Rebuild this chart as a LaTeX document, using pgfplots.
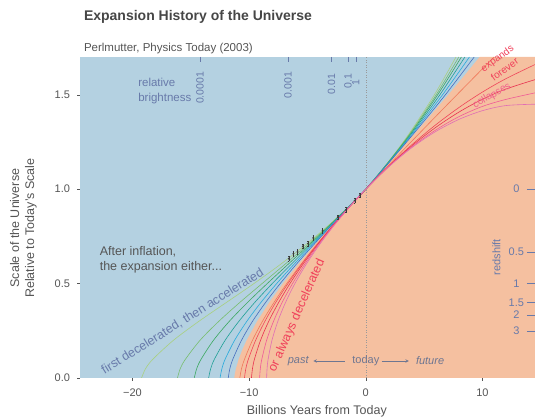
\documentclass[border=0pt]{standalone}
\usepackage{pgfplots}
\pgfplotsset{compat=1.18}
\usepackage{fontspec}
\setmainfont{Liberation Sans}
\definecolor{bgblue}{RGB}{180,209,225}
\definecolor{bgorange}{RGB}{245,192,160}
\definecolor{labgray}{RGB}{85,85,85}
\definecolor{titgray}{RGB}{70,70,70}
\definecolor{annblue}{RGB}{104,122,170}
\definecolor{pastgray}{RGB}{110,118,145}
\definecolor{dkgray}{RGB}{60,60,60}
\definecolor{cG1}{RGB}{168,208,128}
\definecolor{cG2}{RGB}{120,190,110}
\definecolor{cG3}{RGB}{60,168,96}
\definecolor{cG4}{RGB}{32,160,150}
\definecolor{cG5}{RGB}{40,170,220}
\definecolor{cG6}{RGB}{70,110,190}
\definecolor{cR1}{RGB}{240,120,90}
\definecolor{cR2}{RGB}{240,70,90}
\definecolor{cR3}{RGB}{232,50,80}
\definecolor{cR4}{RGB}{240,90,150}
\definecolor{cR5}{RGB}{225,110,180}
\definecolor{redtxt}{RGB}{240,64,90}
\definecolor{pinktxt}{RGB}{240,96,140}
\begin{document}
\begin{tikzpicture}
\begin{axis}[
  name=ax, scale only axis, width=454.5pt, height=321pt,
  xmin=-24.45, xmax=14.5, ymin=0, ymax=1.7,
  axis background/.style={fill=bgblue},
  axis line style={draw=none},
  xtick={-20,-10,0,10}, xticklabels={−20,−10,0,10},
  ytick={0,0.5,1,1.5}, yticklabels={0.0,0.5,1.0,1.5},
  xtick pos=lower, ytick pos=left,
  tick align=outside, major tick length=3pt,
  tick style={draw=labgray, line width=0.4pt},
  tick label style={font=\fontsize{11}{13}\selectfont, text=labgray},
  xticklabel style={yshift=-4pt},
  yticklabel style={xshift=-4pt},
  clip mode=individual,
]
\coordinate (bl) at (rel axis cs:0,0);
\coordinate (tr) at (rel axis cs:1,1);
% orange region (always decelerated side)
\addplot[fill=bgorange, draw=none] coordinates {
(-11.27,0) (-11.23,0.02) (-11.13,0.05) (-10.89,0.1) (-10.58,0.15) (-10.21,0.2)
(-9.32,0.3) (-8.28,0.4) (-7.11,0.5) (-5.83,0.6) (-4.46,0.7) (-3.02,0.8)
(-1.53,0.9) (0,1) (2.13,1.15) (4.27,1.3) (7.07,1.5) (8.42,1.6) (9.75,1.7) (14.5,1.7)
} \closedcycle;
\addplot[gray!80, dotted, line width=0.5pt] coordinates {(0,0) (0,1.7)};
% first decelerated, then accelerated
\addplot[cG1, line width=0.6pt, smooth] coordinates {
(-19.22,0) (-18.87,0.05) (-18.24,0.1) (-16.48,0.2) (-14.31,0.3) (-11.95,0.4) (-9.59,0.5)
(-7.35,0.6) (-5.27,0.7) (-3.35,0.8) (-1.60,0.9) (0,1) (2.00,1.15) (3.78,1.3) (5.88,1.5) (7.73,1.7)};
\addplot[cG2, line width=0.6pt, smooth] coordinates {
(-16.14,0) (-15.90,0.05) (-15.45,0.1) (-14.20,0.2) (-12.60,0.3) (-10.80,0.4) (-8.89,0.5)
(-6.97,0.6) (-5.09,0.7) (-3.29,0.8) (-1.59,0.9) (0,1) (2.01,1.15) (3.85,1.3) (6.03,1.5) (7.97,1.7)};
\addplot[cG3, line width=0.6pt, smooth] coordinates {
(-14.70,0) (-14.49,0.05) (-14.11,0.1) (-13.05,0.2) (-11.70,0.3) (-10.14,0.4) (-8.45,0.5)
(-6.70,0.6) (-4.95,0.7) (-3.23,0.8) (-1.58,0.9) (0,1) (2.03,1.15) (3.91,1.3) (6.16,1.5) (8.19,1.7)};
\addplot[cG4, line width=0.6pt, smooth] coordinates {
(-13.47,0) (-13.29,0.05) (-12.97,0.1) (-12.05,0.2) (-10.88,0.3) (-9.52,0.4) (-8.02,0.5)
(-6.43,0.6) (-4.81,0.7) (-3.17,0.8) (-1.56,0.9) (0,1) (2.06,1.15) (3.99,1.3) (6.35,1.5) (8.49,1.7)};
\addplot[cG5, line width=0.6pt, smooth] coordinates {
(-12.49,0) (-12.33,0.05) (-12.05,0.1) (-11.24,0.2) (-10.20,0.3) (-8.99,0.4) (-7.64,0.5)
(-6.19,0.6) (-4.67,0.7) (-3.11,0.8) (-1.55,0.9) (0,1) (2.09,1.15) (4.08,1.3) (6.58,1.5) (8.88,1.7)};
\addplot[cG6, line width=0.6pt, smooth] coordinates {
(-11.79,0) (-11.65,0.05) (-11.39,0.1) (-10.65,0.2) (-9.71,0.3) (-8.59,0.4) (-7.34,0.5)
(-5.99,0.6) (-4.55,0.7) (-3.06,0.8) (-1.54,0.9) (0,1) (2.12,1.15) (4.18,1.3) (6.82,1.5) (9.29,1.7)};
% always decelerated
\addplot[cR1, line width=0.6pt, smooth] coordinates {
(-10.8,0) (-10.65,0.05) (-10.39,0.1) (-9.71,0.2) (-8.86,0.3) (-7.87,0.4) (-6.78,0.5)
(-5.58,0.6) (-4.30,0.7) (-2.94,0.8) (-1.51,0.9) (0,1)
(2,1.1295) (4,1.258) (6,1.3855) (8,1.512) (10,1.6376) (11,1.70)};
\addplot[cR2, line width=0.6pt, smooth] coordinates {
(-10.4,0) (-10.28,0.05) (-10.06,0.1) (-9.44,0.2) (-8.65,0.3) (-7.72,0.4) (-6.67,0.5)
(-5.52,0.6) (-4.26,0.7) (-2.92,0.8) (-1.50,0.9) (0,1)
(2,1.1246) (4,1.2383) (6,1.3412) (8,1.4333) (10,1.5145) (12,1.5849) (14.5,1.66)};
\addplot[cR3, line width=0.6pt, smooth] coordinates {
(-9.8,0) (-9.71,0.05) (-9.54,0.1) (-9.02,0.2) (-8.32,0.3) (-7.47,0.4) (-6.50,0.5)
(-5.41,0.6) (-4.20,0.7) (-2.90,0.8) (-1.49,0.9) (0,1)
(2,1.1231) (4,1.2322) (6,1.3275) (8,1.4089) (10,1.4765) (12,1.5301) (14.5,1.58)};
\addplot[cR4, line width=0.6pt, smooth] coordinates {
(-9.1,0) (-9.04,0.05) (-8.91,0.1) (-8.50,0.2) (-7.91,0.3) (-7.17,0.4) (-6.28,0.5)
(-5.26,0.6) (-4.12,0.7) (-2.86,0.8) (-1.48,0.9) (0,1)
(2,1.1215) (4,1.2261) (6,1.3138) (8,1.3846) (10,1.4384) (12,1.4753) (14.5,1.51)};
\addplot[cR5, line width=0.6pt, smooth] coordinates {
(-8.5,0) (-8.46,0.05) (-8.37,0.1) (-8.04,0.2) (-7.54,0.3) (-6.88,0.4) (-6.08,0.5)
(-5.13,0.6) (-4.04,0.7) (-2.82,0.8) (-1.48,0.9) (0,1)
(2,1.1206) (4,1.2225) (6,1.3057) (8,1.3701) (10,1.4158) (12,1.4427) (14.5,1.45)};
% supernova data
\addplot[only marks, mark=*, mark size=0.7pt, color=dkgray,
  error bars/.cd, y dir=both, y explicit, error bar style={dkgray, line width=0.4pt}]
coordinates {
(-6.6,0.632) +- (0,0.012) (-6.2,0.658) +- (0,0.012) (-5.85,0.668) +- (0,0.012)
(-5.4,0.697) +- (0,0.012) (-4.95,0.712) +- (0,0.012) (-4.5,0.742) +- (0,0.012)
(-3.7,0.78) +- (0,0.012) (-2.4,0.852) +- (0,0.012) (-1.7,0.89) +- (0,0.012)
(-0.95,0.94) +- (0,0.012) (-0.5,0.968) +- (0,0.012)};
% annotations
\node[anchor=west, align=left, text=labgray, font=\fontsize{12.5}{15}\selectfont]
  at (axis cs:-23.1,0.625) {After inflation,\\the expansion either...};
\node[rotate=32, text=annblue, font=\fontsize{12.5}{15}\selectfont]
  at (axis cs:-15.7,0.30) {first decelerated, then accelerated};
\node[rotate=66, text=redtxt, font=\fontsize{12.5}{15}\selectfont]
  at (axis cs:-5.9,0.33) {or always decelerated};
\node[rotate=36, text=redtxt, font=\fontsize{10}{12}\selectfont]
  at (axis cs:11.3,1.69) {expands};
\node[rotate=36, text=redtxt, font=\fontsize{10}{12}\selectfont]
  at (axis cs:11.9,1.635) {forever};
\node[rotate=30, text=pinktxt, font=\fontsize{10}{12}\selectfont]
  at (axis cs:10.8,1.495) {collapses};
% relative brightness scale
\node[anchor=west, align=left, text=annblue, font=\fontsize{11.5}{15}\selectfont]
  at (axis cs:-19.8,1.52) {relative\\brightness};
\foreach \xx/\lab/\yy in {-14.2/0.0001/1.64, -6.66/0.001/1.64, -2.94/0.01/1.63, -1.52/0.1/1.63, -0.86/1/1.60}{
  \edef\tmp{\noexpand\node[rotate=90, anchor=east, text=annblue, font=\noexpand\fontsize{10.5}{12}\noexpand\selectfont] at (axis cs:\xx,\yy) {\lab};
  \noexpand\draw[annblue, line width=0.4pt] (axis cs:\xx,1.7) -- (axis cs:\xx,1.675);}
  \tmp
}
% redshift scale
\node[rotate=90, text=annblue, font=\fontsize{11}{13}\selectfont] at (axis cs:11.2,0.64) {redshift};
\foreach \zz/\aa in {0/1, 0.5/0.6667, 1/0.5, 1.5/0.4, 2/0.3333, 3/0.25}{
  \edef\tmp{\noexpand\node[text=annblue, font=\noexpand\fontsize{11}{13}\noexpand\selectfont] at (axis cs:12.9,\aa) {\zz};
  \noexpand\draw[annblue, line width=0.4pt] (axis cs:13.8,\aa) -- (axis cs:14.5,\aa);}
  \tmp
}
% past / today / future
\node[anchor=east, text=pastgray, font=\itshape\fontsize{11}{13}\selectfont] at (axis cs:-4.6,0.09) {past};
\node[text=pastgray, font=\fontsize{11}{13}\selectfont] at (axis cs:0,0.09) {today};
\node[anchor=west, text=pastgray, font=\itshape\fontsize{11}{13}\selectfont] at (axis cs:4.0,0.09) {future};
\draw[-stealth, pastgray, line width=0.6pt] (axis cs:-1.8,0.09) -- (axis cs:-4.5,0.09);
\draw[-stealth, pastgray, line width=0.6pt] (axis cs:1.35,0.09) -- (axis cs:3.7,0.09);
% titles and axis labels
\node[anchor=base west, text=titgray, font=\bfseries\fontsize{14}{16}\selectfont]
  at ([yshift=36pt]rel axis cs:0,1) {Expansion History of the Universe};
\node[anchor=base west, text=labgray, font=\fontsize{11.5}{14}\selectfont]
  at ([yshift=5pt]rel axis cs:0,1) {Perlmutter, Physics Today (2003)};
\node[anchor=base, text=labgray, font=\fontsize{12.5}{15}\selectfont]
  at ([yshift=-37pt]rel axis cs:0.52,0) {Billions Years from Today};
\node[rotate=90, align=center, text=labgray, font=\fontsize{12.5}{15}\selectfont]
  at ([xshift=-57pt]rel axis cs:0,0.467) {Scale of the Universe\\Relative to Today's Scale};
\end{axis}
\pgfresetboundingbox
\path[use as bounding box] ([shift={(-80.5pt,-41pt)}]bl) rectangle ([shift={(0pt,57pt)}]tr);
\end{tikzpicture}
\end{document}
